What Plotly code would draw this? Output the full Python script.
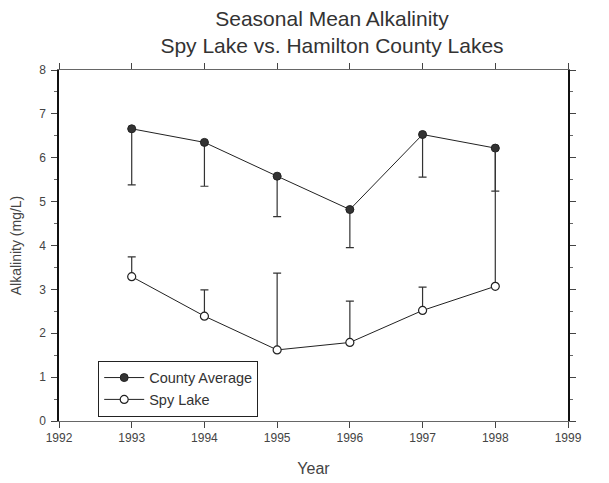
import plotly.graph_objects as go

years = [1993, 1994, 1995, 1996, 1997, 1998]
county_avg = [6.66, 6.35, 5.58, 4.82, 6.53, 6.22]
county_err_down = [1.28, 1.00, 0.92, 0.87, 0.97, 0.98]
spy_lake = [3.29, 2.39, 1.62, 1.79, 2.52, 3.07]
spy_err_up = [0.45, 0.60, 1.75, 0.94, 0.53, 3.13]
x_ticks = [1992, 1993, 1994, 1995, 1996, 1997, 1998, 1999]
y_ticks = [0, 1, 2, 3, 4, 5, 6, 7, 8]

fig = go.Figure()
fig.add_trace(go.Scatter(
    x=years, y=county_avg, name="County Average", mode="lines+markers",
    line=dict(color="#222222", width=1),
    marker=dict(symbol="circle", size=8, color="#333333", line=dict(color="#222222", width=1)),
    error_y=dict(type="data", symmetric=False, array=[0]*len(years), arrayminus=county_err_down,
                 color="#333333", thickness=1.2, width=4),
))
fig.add_trace(go.Scatter(
    x=years, y=spy_lake, name="Spy Lake", mode="lines+markers",
    line=dict(color="#222222", width=1),
    marker=dict(symbol="circle", size=8, color="white", line=dict(color="#222222", width=1.2)),
    error_y=dict(type="data", symmetric=False, array=spy_err_up, arrayminus=[0]*len(years),
                 color="#333333", thickness=1.2, width=4),
))

fig.update_layout(
    width=609, height=483,
    margin=dict(l=51, r=49, t=62, b=70),
    paper_bgcolor="white", plot_bgcolor="white",
    font=dict(family="Liberation Sans, Arial, sans-serif", color="#333333", size=11),
    title=dict(text="Seasonal Mean Alkalinity<br>Spy Lake vs. Hamilton County Lakes",
               x=0.532, xanchor="center", yref="container", y=1 - 18 / 483, yanchor="middle",
               font=dict(size=21, color="#333333")),
    showlegend=True,
    legend=dict(x=0.077, y=0.172, xanchor="left", yanchor="top",
                bordercolor="#222222", borderwidth=1, bgcolor="white",
                font=dict(size=14.5, color="#333333"), tracegroupgap=0,
                itemwidth=40),
    xaxis=dict(range=[1992, 1999], tickvals=x_ticks, ticktext=[str(v) for v in x_ticks],
               automargin=False,
               showgrid=False, zeroline=False, showline=True, linecolor="#666666", linewidth=1,
               mirror="ticks", ticks="outside", ticklen=6, tickcolor="#444444",
               tickfont=dict(size=12, color="#444444"),
               title=dict(text="Year", font=dict(size=16, color="#444444"), standoff=18)),
    yaxis=dict(range=[0, 8], tickvals=y_ticks, automargin=False,
               showgrid=False, zeroline=False, showline=True, linecolor="#111111", linewidth=1.5,
               mirror="ticks", ticks="outside", ticklen=6, tickcolor="#444444",
               minor=dict(dtick=0.5, ticks="outside", ticklen=3, tickcolor="#666666"),
               tickfont=dict(size=12, color="#444444"), ticklabelstandoff=3,
               title=dict(text="Alkalinity (mg/L)", font=dict(size=14, color="#444444"), standoff=16)),
)

fig.write_html("out.html")
